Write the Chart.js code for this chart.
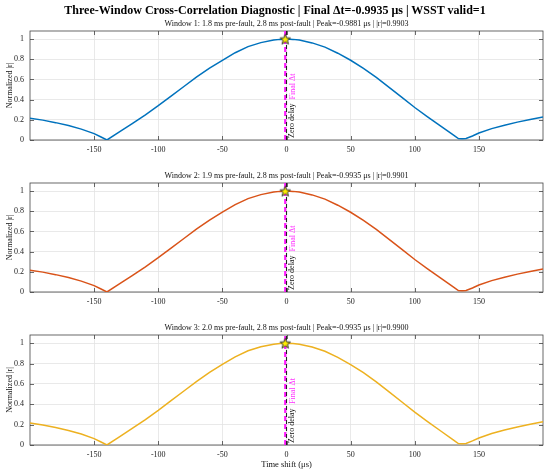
<!DOCTYPE html>
<html lang="en">
<head>
  <meta charset="UTF-8">
  <title>Three-Window Cross-Correlation Diagnostic</title>
  <script src="https://cdn.jsdelivr.net/npm/chart.js"></script>
  <style>
    body { margin: 0; background: #fff; }
    #fig { position: relative; width: 550px; height: 470px; font-family: "Liberation Serif", serif; }
    #main-title { position: absolute; top: 3px; left: 0; width: 550px; text-align: center;
                  font-weight: bold; font-size: 12px; color: #000; }
    .panel { position: absolute; left: 0; width: 550px; }
  </style>
</head>
<body>
<div id="fig">
  <div class="panel" style="top:16px;height:140px"><canvas id="w1"></canvas></div>
  <div class="panel" style="top:166px;height:142px"><canvas id="w2"></canvas></div>
  <div class="panel" style="top:318px;height:152px"><canvas id="w3"></canvas></div>
  <div id="main-title">Three-Window Cross-Correlation Diagnostic | Final Δt=-0.9935 μs | WSST valid=1</div>
</div>

<script>
  // lag axis (μs) and normalized |r| per window
  const shift = [-200, -190, -180, -170, -160, -150, -145, -140, -130, -120, -110, -100, -90, -80, -70, -60,
                 -50, -40, -30, -20, -10, -5, 0, 5, 10, 20, 30, 40, 50, 60, 70, 80, 90, 100, 110, 120,
                 130, 134, 137, 140, 145, 150, 160, 170, 180, 190, 200];
  const r1 = [0.215, 0.197, 0.172, 0.143, 0.108, 0.063, 0.032, 0.0, 0.082, 0.165, 0.25, 0.34, 0.435, 0.53, 0.625, 0.712,
              0.79, 0.865, 0.925, 0.965, 0.99, 0.997, 1.0, 0.997, 0.99, 0.962, 0.92, 0.86, 0.79, 0.71, 0.62, 0.522,
              0.422, 0.322, 0.23, 0.14, 0.05, 0.014, 0.012, 0.015, 0.04, 0.069, 0.113, 0.147, 0.177, 0.203, 0.228];
  const r2 = [0.215, 0.197, 0.172, 0.143, 0.108, 0.063, 0.032, 0.0, 0.082, 0.165, 0.25, 0.34, 0.435, 0.53, 0.625, 0.712,
              0.792, 0.866, 0.925, 0.965, 0.99, 0.997, 1.0, 0.997, 0.99, 0.962, 0.92, 0.86, 0.79, 0.71, 0.62, 0.522,
              0.422, 0.322, 0.23, 0.14, 0.05, 0.014, 0.012, 0.015, 0.04, 0.069, 0.113, 0.147, 0.177, 0.203, 0.228];
  const r3 = [0.215, 0.197, 0.172, 0.143, 0.108, 0.063, 0.032, 0.0, 0.082, 0.165, 0.25, 0.34, 0.435, 0.53, 0.625, 0.712,
              0.792, 0.866, 0.925, 0.965, 0.99, 0.997, 1.0, 0.997, 0.99, 0.962, 0.92, 0.86, 0.79, 0.71, 0.62, 0.522,
              0.422, 0.322, 0.23, 0.14, 0.05, 0.014, 0.012, 0.015, 0.04, 0.069, 0.113, 0.147, 0.177, 0.203, 0.228];
  const peaks = [-0.9881, -0.9935, -0.9935];
  const finalDt = -0.9935;
  const titles = [
    'Window 1: 1.8 ms pre-fault, 2.8 ms post-fault | Peak=-0.9881 μs | |r|=0.9903',
    'Window 2: 1.9 ms pre-fault, 2.8 ms post-fault | Peak=-0.9935 μs | |r|=0.9901',
    'Window 3: 2.0 ms pre-fault, 2.8 ms post-fault | Peak=-0.9935 μs | |r|=0.9900'
  ];
  const xTicks = [-150, -100, -50, 0, 50, 100, 150];
  const yTicks = [0, 0.2, 0.4, 0.6, 0.8, 1];

  const FONT = 'Liberation Serif';
  const AXIS = '#444';

  // filled yellow star for the peak marker
  function makeStar(size) {
    const c = document.createElement('canvas');
    c.width = size; c.height = size;
    const g = c.getContext('2d');
    const cx = size / 2, cy = size / 2 + 0.5, ro = size / 2 - 1, ri = ro * 0.42;
    g.beginPath();
    for (let i = 0; i < 10; i++) {
      const r = i % 2 ? ri : ro;
      const a = -Math.PI / 2 + i * Math.PI / 5;
      g.lineTo(cx + r * Math.cos(a), cy + r * Math.sin(a));
    }
    g.closePath();
    g.fillStyle = '#FFEE00'; g.fill();
    g.strokeStyle = '#333'; g.lineWidth = 1; g.stroke();
    return c;
  }
  const star = makeStar(13);

  // box, inward ticks, subplot title and the rotated line labels
  const axesDecor = {
    id: 'axesDecor',
    beforeDatasetsDraw(chart, args, opts) {
      const { ctx, chartArea: a, scales } = chart;
      ctx.save();
      ctx.strokeStyle = AXIS;
      ctx.lineWidth = 0.8;
      ctx.strokeRect(a.left, a.top, a.right - a.left, a.bottom - a.top);
      ctx.beginPath();
      xTicks.forEach(v => {
        const x = Math.round(scales.x.getPixelForValue(v)) + 0.5;
        ctx.moveTo(x, a.bottom); ctx.lineTo(x, a.bottom - 4);
        ctx.moveTo(x, a.top); ctx.lineTo(x, a.top + 4);
      });
      yTicks.forEach(v => {
        const y = Math.round(scales.y.getPixelForValue(v)) + 0.5;
        ctx.moveTo(a.left, y); ctx.lineTo(a.left + 4, y);
        ctx.moveTo(a.right, y); ctx.lineTo(a.right - 4, y);
      });
      ctx.stroke();
      ctx.restore();
    },
    afterDatasetsDraw(chart, args, opts) {
      const { ctx, chartArea: a, scales } = chart;
      ctx.save();
      ctx.fillStyle = '#111';
      ctx.font = '8px "' + FONT + '"';
      ctx.textAlign = 'center';
      ctx.textBaseline = 'middle';
      ctx.fillText(opts.title, (a.left + a.right) / 2, a.top - 7);

      ctx.textBaseline = 'top';
      // Zero delay, sits on the bottom
      ctx.save();
      ctx.translate(scales.x.getPixelForValue(0) + 1.5, scales.y.getPixelForValue(0.02));
      ctx.rotate(-Math.PI / 2);
      ctx.textAlign = 'left';
      ctx.fillStyle = '#111';
      ctx.fillText('Zero delay', 0, 0);
      ctx.restore();
      // Final Δt, centred in the axes
      ctx.save();
      ctx.translate(scales.x.getPixelForValue(finalDt) + 3.5, (a.top + a.bottom) / 2 + 1);
      ctx.rotate(-Math.PI / 2);
      ctx.textAlign = 'center';
      ctx.fillStyle = '#FF33FF';
      ctx.fillText('Final Δt', 0, 0);
      ctx.restore();
      ctx.restore();
    }
  };

  function makeChart(id, values, color, peak, title, padTop, xHeight, showXTitle) {
    new Chart(document.getElementById(id), {
      type: 'line',
      data: {
        datasets: [
          {
            data: shift.map((x, i) => ({ x, y: values[i] })),
            borderColor: color, borderWidth: 1.5, pointRadius: 0, tension: 0, order: 3
          },
          {
            data: [{ x: finalDt, y: 0 }, { x: finalDt, y: 1.08 }],
            borderColor: '#FF1AFF', borderWidth: 2.2, borderDash: [5, 3], pointRadius: 0, order: 2
          },
          {
            data: [{ x: 0, y: 0 }, { x: 0, y: 1.08 }],
            borderColor: '#222', borderWidth: 1.1, borderDash: [4, 3], pointRadius: 0, order: 1
          },
          {
            data: [{ x: peak, y: 1 }],
            showLine: false, pointStyle: star, pointRadius: 6, order: 0
          }
        ]
      },
      options: {
        responsive: true,
        maintainAspectRatio: false,
        animation: false,
        layout: { padding: { left: 0, right: 6, top: padTop, bottom: 0 } },
        plugins: {
          legend: { display: false },
          tooltip: { enabled: false },
          axesDecor: { title }
        },
        scales: {
          x: {
            type: 'linear', min: -200, max: 200,
            afterBuildTicks: s => { s.ticks = xTicks.map(v => ({ value: v })); },
            afterFit: s => { s.height = xHeight; },
            grid: { color: '#e3e3e3', lineWidth: 0.8, drawTicks: false },
            border: { display: false },
            ticks: { padding: 5, color: '#222', font: { family: FONT, size: 8 }, callback: v => String(v) },
            title: {
              display: showXTitle, text: 'Time shift (μs)', color: '#111',
              font: { family: FONT, size: 8.5 }, padding: { top: 4, bottom: 0 }
            }
          },
          y: {
            min: 0, max: 1.08,
            afterBuildTicks: s => { s.ticks = yTicks.map(v => ({ value: v })); },
            afterFit: s => { s.width = 30; },
            grid: { color: '#e3e3e3', lineWidth: 0.8, drawTicks: false },
            border: { display: false },
            ticks: { padding: 6, color: '#222', font: { family: FONT, size: 8 }, callback: v => String(v) },
            title: {
              display: true, text: 'Normalized |r|', color: '#111',
              font: { family: FONT, size: 8 }, padding: { top: 5, bottom: 0 }
            }
          }
        }
      },
      plugins: [axesDecor]
    });
  }

  makeChart('w1', r1, '#0072BD', peaks[0], titles[0], 15, 16, false);
  makeChart('w2', r2, '#D95319', peaks[1], titles[1], 17, 16, false);
  makeChart('w3', r3, '#EDB120', peaks[2], titles[2], 17, 25, true);
</script>
</body>
</html>
